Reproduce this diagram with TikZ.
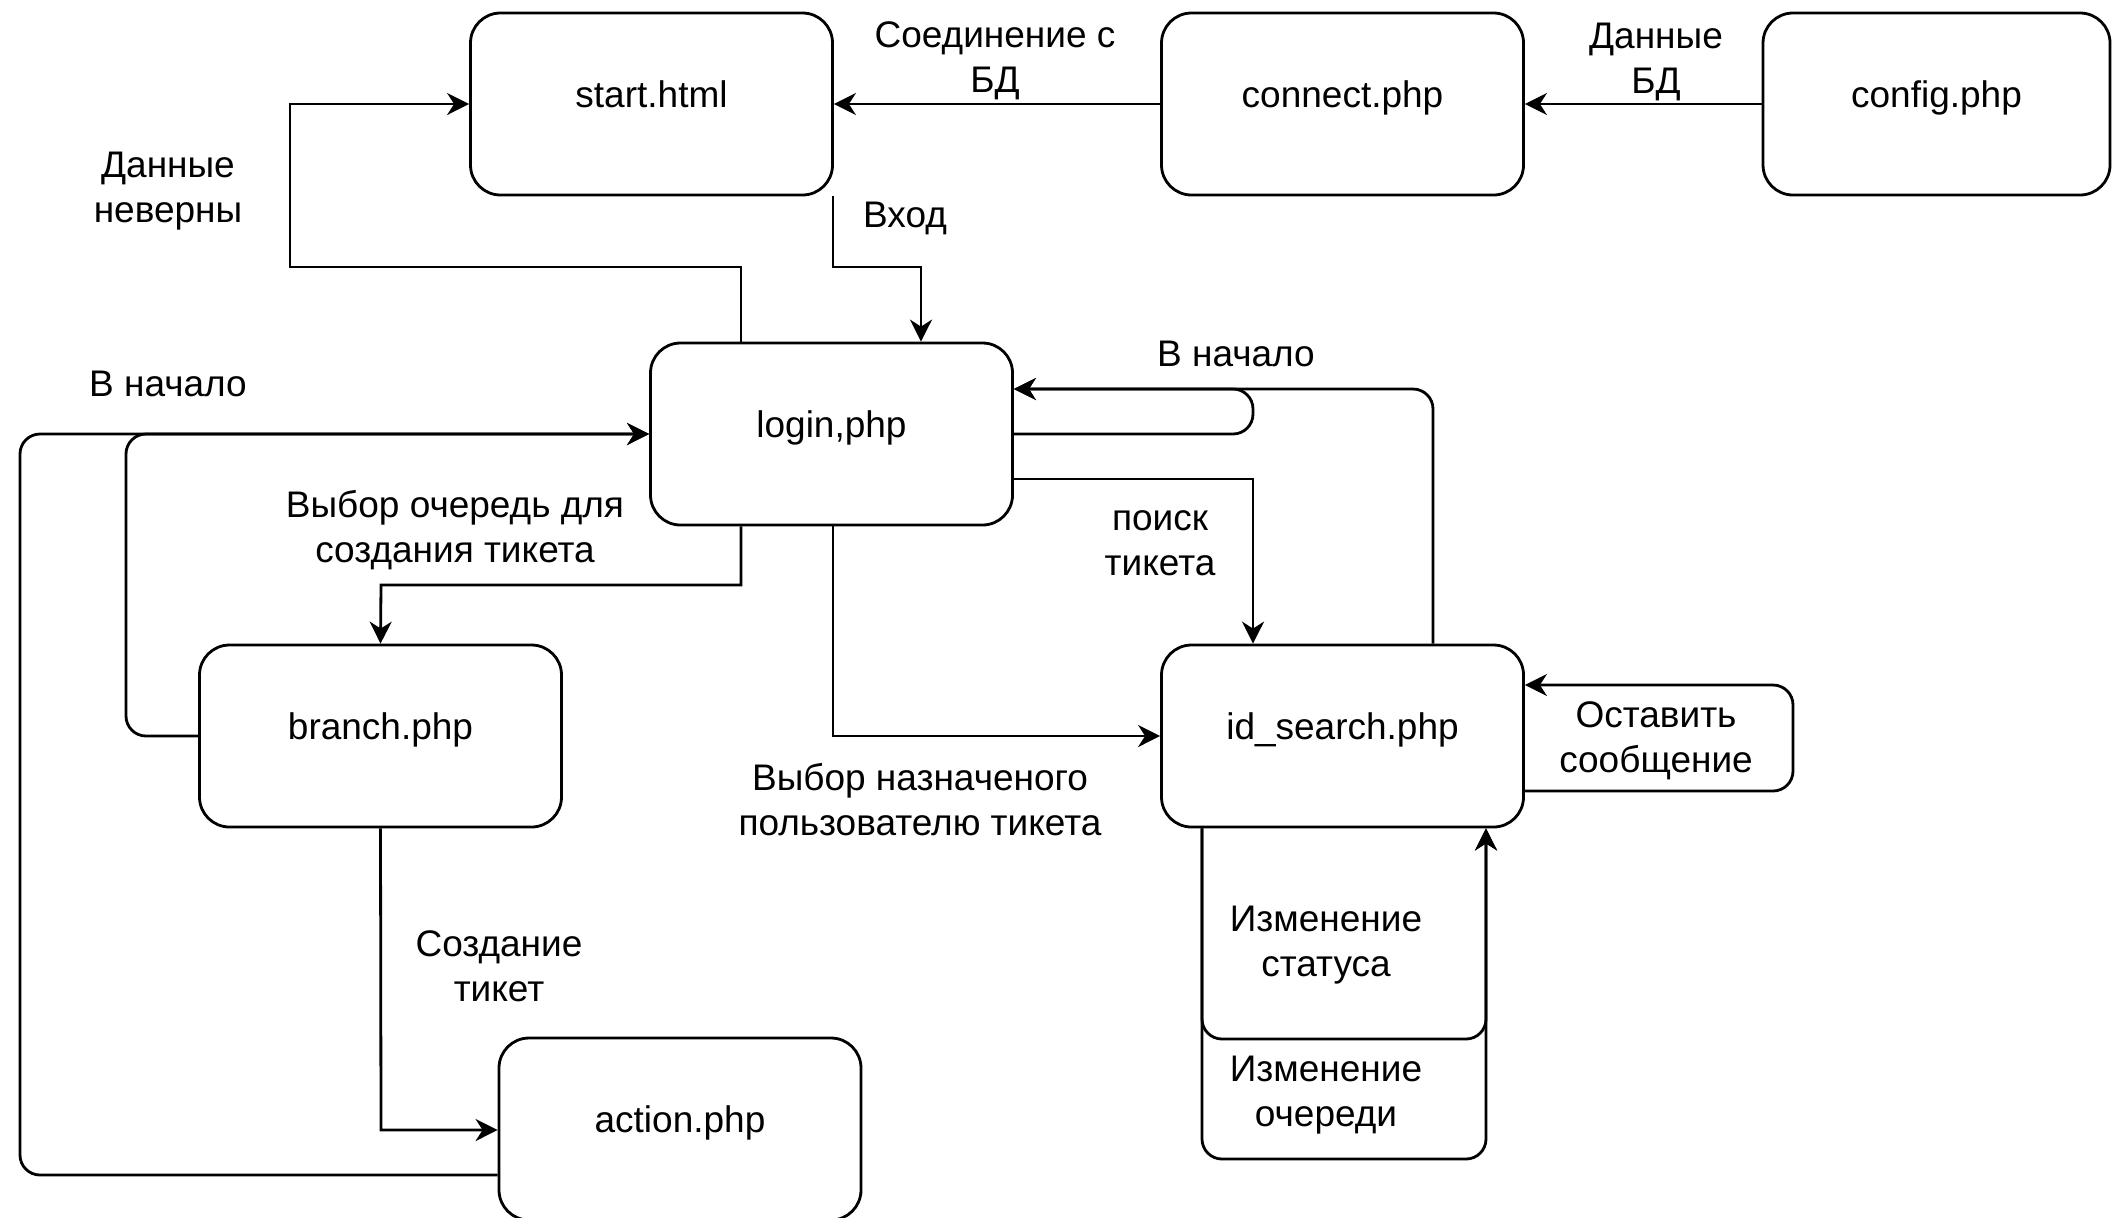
\documentclass[tikz,border=0pt]{standalone}
\usepackage{fontspec}
\setmainfont{Liberation Sans}
\usetikzlibrary{arrows.meta,calc}
\begin{document}
\begin{tikzpicture}[x=0.5pt,y=-0.5pt,
  box/.style={draw,line width=1.4pt,rounded corners=15pt,minimum width=181pt,minimum height=91pt,inner sep=0pt,text height=13pt,text depth=10pt,font=\fontsize{18.5}{22.5}\selectfont},
  lbl/.style={align=center,font=\fontsize{18.5}{22.5}\selectfont,inner sep=0pt},
  con/.style={line width=1.4pt},
  arr/.style={con,-{Stealth[length=11pt,width=11pt,inset=3.5pt]}},
  loop/.style={arr,rounded corners=10pt}
]
\useasboundingbox (0,0) rectangle (2113,1217);
% boxes
\node[box] (start) at (651.5,104) {start.html};
\node[box] (connect) at (1342.5,104) {connect.php};
\node[box,minimum width=173.5pt] (config) at (1936.5,104) {config.php};
\node[box] (login) at (831.5,434) {login,php};
\node[box] (branch) at (380.5,736) {branch.php};
\node[box] (idsearch) at (1342.5,736) {id\_search.php};
\node[box] (action) at (680,1129) {action.php};
% connectors
\draw[arr] (connect.west) -- (start.east);
\draw[arr] (config.west) -- (connect.east);
\draw[arr] (833,0 |- start.south) -- (833,267) -- (921,267) -- (921,0 |- login.north);
\draw[arr] (741,0 |- login.north) -- (741,267) -- (290,267) -- (290,0 |- start.west) -- (start.west);
\draw[arr] (741,0 |- login.south) -- (741,585) -- (381,585) -- (branch.north);
\draw[loop] (branch.west) -- (126,736) -- (126,434) -- (login.west);
\draw[loop] (action.west |- 0,1175) -- (20,1175) -- (20,434) -- (login.west);
\draw[arr] (branch.south) -- (381,1130) -- (action.west |- 0,1130);
\draw[arr] (login.east |- 0,479) -- (1253,479) -- (1253,0 |- idsearch.north);
\draw[loop] (login.east) -- (1253,434) -- (1253,389) -- (login.east |- 0,389);
\draw[loop] (1433,0 |- idsearch.north) -- (1433,389) -- (login.east |- 0,389);
\draw[arr] (833,0 |- login.south) -- (833,736) -- (idsearch.west);
\draw[loop] (idsearch.east |- 0,791) -- (1793,791) -- (1793,685) -- (idsearch.east |- 0,685);
\draw[loop] (1202,0 |- idsearch.south) -- (1202,1039) -- (1486,1039) -- (1486,0 |- idsearch.south);
\draw[loop] (1202,0 |- idsearch.south) -- (1202,1159) -- (1486,1159) -- (1486,0 |- idsearch.south);
% labels
\node[lbl] (l1) at (995,61) {Соединение с\\БД};
\node[lbl] (l2) at (1656,62) {Данные\\БД};
\node[lbl] (l3) at (905,218) {Вход};
\node[lbl] (l4) at (168,191) {Данные\\неверны};
\node[lbl] (l5) at (168,384) {В начало};
\node[lbl] (l6) at (1236,354) {В начало};
\node[lbl] (l7) at (455,530) {Выбор очередь для\\создания тикета};
\node[lbl] (l8) at (1160,543) {поиск\\тикета};
\node[lbl] (l9) at (920,800) {Выбор назначеного\\пользователю тикета};
\node[lbl] (l10) at (499,966) {Создание\\тикет};
\node[lbl] (l11) at (1656,741) {Оставить\\сообщение};
\node[lbl] (l12) at (1326,945) {Изменение\\статуса};
\node[lbl] (l13) at (1326,1095) {Изменение\\очереди};
\end{tikzpicture}
\end{document}
